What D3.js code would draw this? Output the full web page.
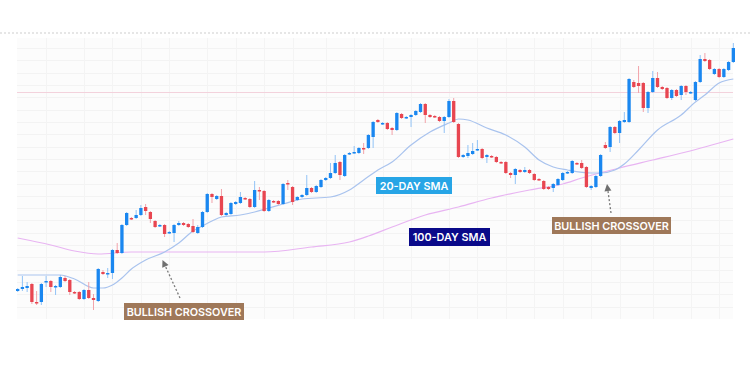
<!DOCTYPE html>
<html><head><meta charset="utf-8">
<script src="https://cdn.jsdelivr.net/npm/d3@7"></script>
<style>html,body{margin:0;padding:0;background:#fff;}svg{display:block;}</style>
</head><body>
<svg id="c" width="750" height="367"></svg>
<script>
// price values (arbitrary units)
const open = [29,31,32,36,18,18,38,39,33,33, 42,40,28,28,21,30,22,19,48,46, 47,70,67,95,102,102,105,113,108,99, 94,95,87,87,95,97,96,94,87,93, 108,126,121,124,105,106,116,117,122,121, 113,130,129,109,119,119,116,137,133,120, 123,125,132,128,133,140,142,147,158,144, 166,167,167,172,172,183,200,196,197,192, 190,206,202,203,205,208,216,205,204,203, 199,203,219,196,163,164,166,170,171,163, 164,163,158,158,147,145,150,148,150,146, 141,139,133,132,135,140,147,147,157,157, 153,132,133,144,175,173,193,187,198,198, 238,237,237,212,228,242,233,232,222,230, 225,234,227,220,238,261,260,246,251,243, 250,258];
const close = [31,33,34,18,17,36,39,33,34,43, 39,28,27,21,30,22,20,51,46,47, 70,67,95,107,101,105,112,109,101,93, 95,86,88,95,97,95,93,88,93,108, 126,123,124,105,107,117,118,123,121,113, 130,129,109,120,118,116,136,136,118,123, 125,132,128,134,140,142,147,157,145,165, 167,168,172,171,185,198,198,197,191,190, 207,202,203,205,209,216,205,203,203,199, 203,219,198,163,165,167,169,171,162,165, 163,158,157,147,145,151,148,150,147,140, 140,131,131,136,141,147,148,159,156,152, 133,134,144,165,172,193,187,199,200,241, 233,234,212,228,242,233,231,222,230,224, 234,228,228,238,261,259,251,251,243,251, 258,272];
const high = [32,44,38,37,29,37,44,40,35,45, 44,41,29,29,31,38,26,52,50,52, 71,77,96,108,103,110,115,116,109,100, 96,96,89,96,99,98,97,101,95,109, 127,127,125,131,108,118,119,128,123,122, 139,133,130,121,120,120,137,140,134,124, 126,145,133,135,141,143,157,165,159,166, 168,174,173,177,186,199,201,198,198,193, 208,207,204,206,210,217,217,206,205,204, 204,221,222,197,166,175,177,180,172,166, 165,164,159,159,148,152,151,153,151,147, 142,140,134,137,142,148,149,160,158,160, 154,135,145,166,178,194,194,200,208,242, 240,254,238,229,249,248,234,233,231,231, 235,235,229,239,265,267,261,252,252,252, 259,277];
const low = [28,29,28,16,15,15,33,28,25,32, 38,25,26,20,20,21,10,18,45,42, 41,66,66,94,100,101,104,105,97,92, 93,83,86,78,94,94,92,87,86,92, 107,117,120,104,104,105,115,116,120,112, 112,120,108,108,117,115,115,130,115,119, 122,124,127,127,132,139,141,146,140,143, 165,166,166,166,171,172,197,195,190,185, 189,201,201,193,204,207,197,202,202,198, 187,202,197,162,162,162,165,169,161,157, 162,157,156,146,142,136,147,147,146,139, 139,130,130,128,134,139,146,146,155,151, 132,130,132,143,171,168,186,177,197,197, 232,227,208,207,227,232,230,221,220,223, 220,225,226,219,237,258,250,245,242,242, 249,257];

// moving averages read at sample days
const sma20Day = [0,9,12,16,18,20,22,24,27,31,34,37,39,41,43,47,50,53,56,60,66,70,73,76,79,83,87,91,93,95,99,103,107,110,113,116,121,123,126,128,131,135,140,143,145,148,151];
const sma20Val = [45,45,41,32,32,35,42,51,60,68,77,89,94,99,103,105,108,112,116,121,123,130,140,150,158,175,188,197,201,200,192,185,173,160,153,150,147,147,150,156,170,190,205,218,225,237,241];
const sma100Day = [0,7,12,17,24,36,52,62,70,74,79,86,93,100,108,115,119,127,134,141,151];
const sma100Val = [82,75,69,66,68,68,68,73,78,84,93,105,113,122,130,136,142,152,160,168,181];
const refLevel = 228.5;
const gridDays = [6,14,20,26,32,40,46,52,58,65,71,77,83,91,97,103,109,115,121,127,134,142,148];
const gridLevels = [13.5,25.8,38.1,50.4,62.7,75,87.3,99.6,111.9,124.2,136.5,148.8,161.1,173.4,185.7,198,210.3,222.6,234.9,247.2,259.5,271.8];

const svg = d3.select('#c');
const W = 750, H = 367;
const plot = {l:17, r:733, t:38, b:319};
const days = d3.range(open.length);
const x = d3.scaleBand().domain(days).range([16, 735]).paddingInner(0.3);
const xc = d => x(d) + x.bandwidth()/2;
const y = d3.scaleLinear().domain([0, 280]).range([320, 40]);

// top dotted line
svg.append('line').attr('x1',0).attr('x2',W).attr('y1',33).attr('y2',33)
  .attr('stroke','#e6e6e6').attr('stroke-width',2).attr('stroke-dasharray','2,2');

// plot bg
svg.append('rect').attr('x',plot.l).attr('y',plot.t).attr('width',plot.r-plot.l).attr('height',plot.b-plot.t).attr('fill','#fcfcfc');

const g = svg.append('g');
g.selectAll('.hg').data(gridLevels).join('line')
  .attr('x1',plot.l).attr('x2',plot.r).attr('y1',d=>Math.round(y(d))+0.5).attr('y2',d=>Math.round(y(d))+0.5)
  .attr('stroke','#f3f3f3').attr('stroke-width',1);
g.selectAll('.vg').data(gridDays).join('line')
  .attr('x1',d=>Math.round(xc(d))+0.5).attr('x2',d=>Math.round(xc(d))+0.5).attr('y1',plot.t).attr('y2',plot.b)
  .attr('stroke','#f4f4f4').attr('stroke-width',1);

// reference level
g.append('line').attr('x1',plot.l).attr('x2',plot.r).attr('y1',Math.round(y(refLevel))+0.5).attr('y2',Math.round(y(refLevel))+0.5)
  .attr('stroke','#f3d2dc').attr('stroke-width',1);

// moving averages
const line = d3.line().curve(d3.curveMonotoneX);
g.append('path').attr('d', line(sma100Day.map((d,i)=>[xc(d), y(sma100Val[i])])))
  .attr('fill','none').attr('stroke','#e8b4f2').attr('stroke-width',1.2);
g.append('path').attr('d', line(sma20Day.map((d,i)=>[xc(d), y(sma20Val[i])])))
  .attr('fill','none').attr('stroke','#a9c3ee').attr('stroke-width',1.2);

// candles
const UP = '#1a87f0', DN = '#e84651', UPW = '#92c3f6', DNW = '#f2a3aa';
const cg = g.append('g');
cg.selectAll('.w').data(days).join('line')
  .attr('x1',d=>xc(d)).attr('x2',d=>xc(d))
  .attr('y1',d=>y(high[d])).attr('y2',d=>y(low[d]))
  .attr('stroke',d=>close[d]>=open[d]?UPW:DNW).attr('stroke-width',1);
cg.selectAll('.b').data(days).join('rect')
  .attr('x',d=>x(d)).attr('width',x.bandwidth())
  .attr('y',d=>y(Math.max(open[d],close[d])))
  .attr('height',d=>Math.max(1.5, Math.abs(y(open[d])-y(close[d]))))
  .attr('fill',d=>close[d]>=open[d]?UP:DN);

// arrows
function arrow(x1,y1,x2,y2){
  const ang = Math.atan2(y2-y1, x2-x1);
  const hl = 7, hw = 3.5;
  const bx = x2 - hl*Math.cos(ang), by = y2 - hl*Math.sin(ang);
  svg.append('line').attr('x1',x1).attr('y1',y1).attr('x2',bx).attr('y2',by)
    .attr('stroke','#7a7a7a').attr('stroke-width',1.3).attr('stroke-dasharray','2,2');
  const px = -Math.sin(ang), py = Math.cos(ang);
  svg.append('path').attr('d',`M${x2},${y2}L${bx+px*hw},${by+py*hw}L${bx-px*hw},${by-py*hw}Z`).attr('fill','#6f6f6f');
}
arrow(180,298,162.5,260);
arrow(611,213,607,184);

// labels
function label(cx, cy, w, h, text, bg){
  svg.append('rect').attr('x',cx-w/2).attr('y',cy-h/2).attr('width',w).attr('height',h).attr('fill',bg);
  svg.append('text').attr('x',cx).attr('y',cy+0.5).attr('text-anchor','middle').attr('dominant-baseline','central')
    .attr('fill','#fff').attr('font-family','Inter, "Open Sans", sans-serif').attr('font-weight',600)
    .attr('font-size',10.8).text(text);
}
label(414, 185.5, 76, 17, '20-DAY SMA', '#27a5e6');
label(449.5, 237, 81, 18, '100-DAY SMA', '#0a0a8a');
label(184, 311.5, 120, 17, 'BULLISH CROSSOVER', '#9f7859');
label(611.5, 225.5, 119, 17, 'BULLISH CROSSOVER', '#9f7859');
</script>
</body></html>
